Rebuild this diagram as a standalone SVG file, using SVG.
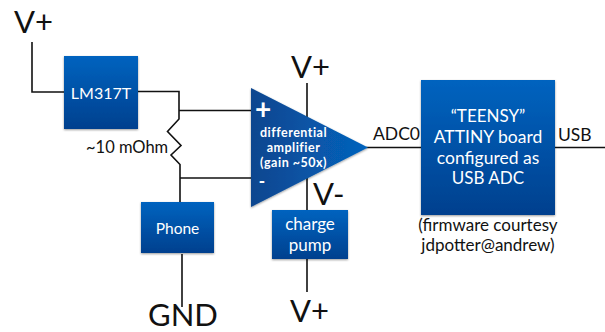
<svg xmlns="http://www.w3.org/2000/svg" width="605" height="332" viewBox="0 0 605 332">
<style>
text{font-family:Lato,"Open Sans","Liberation Sans",sans-serif;}
.w{fill:#fff;text-anchor:middle;}
.k{fill:#111;}
.box{fill:url(#g);filter:url(#s);}
.c{fill:none;stroke:#111;stroke-width:1.6;}
.a{font-size:12.500px;font-weight:700;letter-spacing:.5px;}
</style>
<defs>
<linearGradient id="g" x1="0" y1="0" x2="0" y2="1"><stop offset="0" stop-color="#0363bf"/><stop offset="1" stop-color="#04408e"/></linearGradient>
<linearGradient id="h" x1="0" y1="0" x2="1" y2="0"><stop offset="0" stop-color="#0a468f"/><stop offset="1" stop-color="#0563bd"/></linearGradient>
<filter id="s" x="-10%" y="-10%" width="120%" height="120%"><feDropShadow dx="0" dy="1" stdDeviation="1.3" flood-color="#000" flood-opacity="0.4"/></filter>
</defs>
<g id="connectors">
<path class="c" d="M32 42V92H64"/>
<path class="c" d="M138 91.500H179V119L167.500 131.500L181 145.500L171 155L180 164.500V202"/>
<path class="c" d="M179 110.500H252"/>
<path class="c" d="M180 178H252"/>
<path class="c" d="M182 254V307"/>
<path class="c" d="M307 83V120M307 176V210"/>
<path class="c" d="M307 259V292"/>
<path class="c" d="M366 147.500H421"/>
<path class="c" d="M555 147.500H605"/>
</g>
<g id="lm317t"><rect class="box" x="64" y="56" width="74" height="73"/><text class="w" x="101" y="99" font-size="16">LM317T</text></g>
<g id="phone"><rect class="box" x="141" y="202" width="73" height="51"/><text class="w" x="177.500" y="234" font-size="15.500">Phone</text></g>
<g id="amplifier"><path d="M251 88L368 147.500L251 207Z" fill="url(#h)" filter="url(#s)"/>
<text class="w" x="263" y="119" font-size="28" font-weight="700">+</text>
<text class="w" x="262" y="187" font-size="17" font-weight="900">-</text>
<text class="w a" x="293.500" y="137">differential</text>
<text class="w a" x="293.500" y="152">amplifier</text>
<text class="w a" x="293.500" y="167">(gain ~50x)</text></g>
<g id="charge-pump"><rect class="box" x="272" y="210" width="76" height="49"/><text class="w" x="310" y="230" font-size="17">charge</text><text class="w" x="310" y="251" font-size="17">pump</text></g>
<g id="teensy"><rect class="box" x="421" y="80" width="134" height="135"/>
<text class="w" x="488" y="122" font-size="17">“TEENSY”</text>
<text class="w" x="488" y="143" font-size="17.500">ATTINY board</text>
<text class="w" x="488" y="164" font-size="17.500">configured as</text>
<text class="w" x="488" y="184" font-size="17">USB ADC</text></g>
<g id="labels">
<text class="k" x="14" y="33" font-size="31">V+</text>
<text class="k" x="291" y="78" font-size="31">V+</text>
<text class="k" x="290" y="322" font-size="31">V+</text>
<text class="k" x="313" y="205" font-size="31">V-</text>
<text class="k" x="148" y="326" font-size="31">GND</text>
<text class="k" x="86" y="153" font-size="16.500">~10 mOhm</text>
<text class="k" x="373" y="140" font-size="17.500">ADC0</text>
<text class="k" x="558" y="141" font-size="17.500">USB</text>
<text class="k" x="488" y="231" font-size="17" text-anchor="middle">(firmware courtesy</text>
<text class="k" x="488" y="251" font-size="17" text-anchor="middle">jdpotter@andrew)</text>
</g>
</svg>
